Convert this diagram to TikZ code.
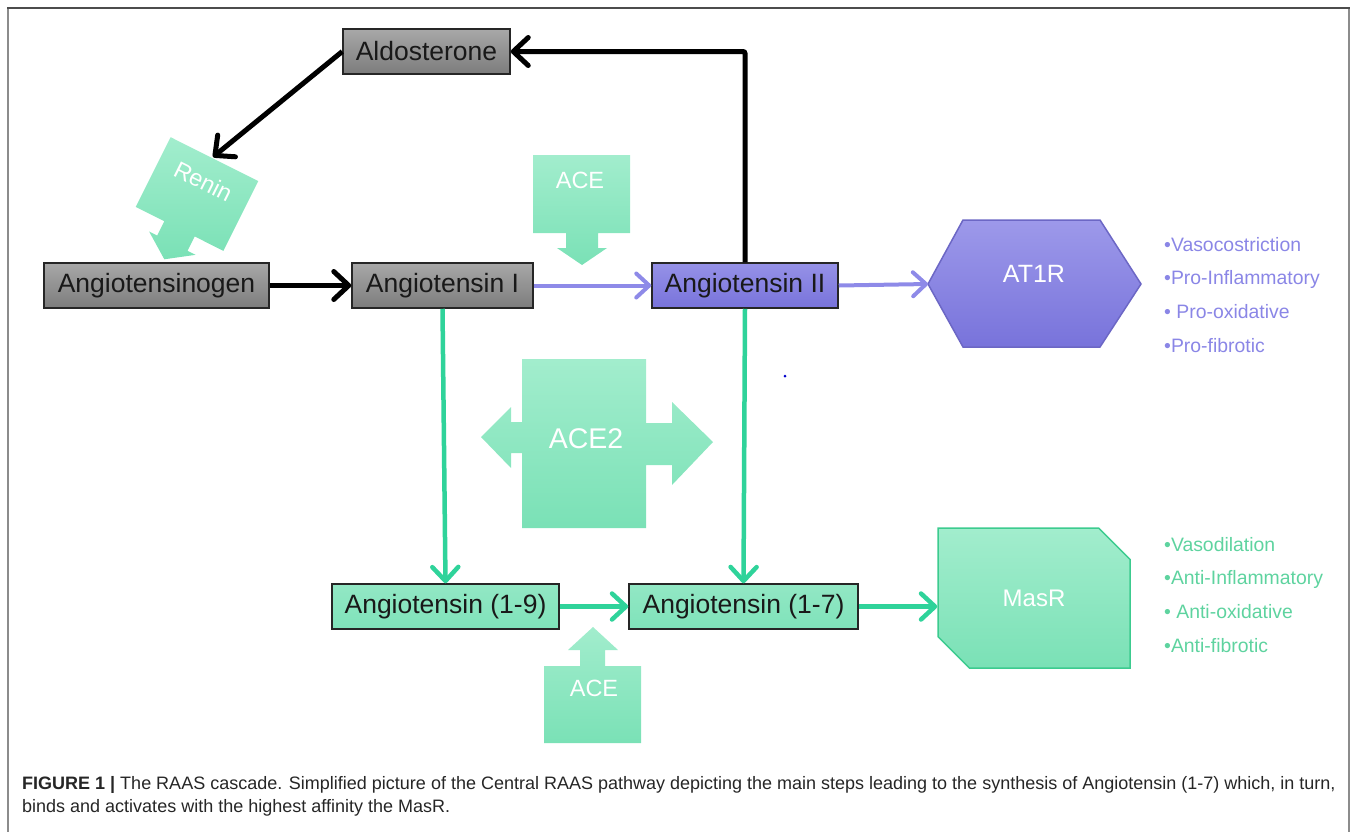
\documentclass[tikz,border=0pt]{standalone}
\usepackage{fontspec}
\setmainfont{Liberation Sans}
\usetikzlibrary{arrows.meta,positioning,shapes.misc}

\definecolor{grayT}{HTML}{A8A8A8}
\definecolor{grayB}{HTML}{7C7C7C}
\definecolor{purT}{HTML}{9D99EA}
\definecolor{purB}{HTML}{7873DB}
\definecolor{purLine}{HTML}{8E8AE8}
\definecolor{purText}{HTML}{8A86E6}
\definecolor{grnT}{HTML}{A2EDCD}
\definecolor{grnB}{HTML}{7AE1B6}
\definecolor{grnBox}{HTML}{7FE3BA}
\definecolor{grnLine}{HTML}{2FD39A}
\definecolor{grnEdge}{HTML}{3CCB8F}
\definecolor{grnText}{HTML}{5ED39F}

\tikzset{
  box/.style={draw=black!85,line width=1.5pt,minimum width=#1,minimum height=45pt,
    inner sep=0pt,font=\fontsize{26.5}{30}\selectfont,text=black!90},
  graybox/.style={box=#1,top color=grayT,bottom color=grayB},
  purbox/.style={box=#1,top color=purT!80!purB,bottom color=purB},
  grnbox/.style={box=#1,top color=grnBox!85!white,bottom color=grnBox},
  callout/.style={top color=grnT,bottom color=grnB,draw=none},
  calltext/.style={text=white,font=\fontsize{23.5}{26}\selectfont},
  blk/.style={line width=5pt,black,-{Straight Barb[length=15pt,width=28pt,round]}},
  pur/.style={line width=4pt,purLine,-{Straight Barb[length=13pt,width=24pt,round]}},
  grn/.style={line width=4.5pt,grnLine,-{Straight Barb[length=14pt,width=26pt,round]}},
  effect/.style={anchor=west,inner sep=0pt,font=\fontsize{19.4}{22}\selectfont}
}

\begin{document}
\begin{tikzpicture}[x=1pt,y=-1pt]
\useasboundingbox (0,0) rectangle (1358,831);
% frame
\draw[line width=2pt,black!45] (8,845) -- (8,8);
\draw[line width=2pt,black!45] (1349,8) -- (1349,845);
\draw[line width=2pt,black!70] (7,8) -- (1350,8);

% main boxes
\node[graybox=167pt] (aldo) at (426.5,51.5) {Aldosterone};
\node[graybox=225pt] (agen) at (156.5,285.5) {Angiotensinogen};
\node[graybox=181pt] (ang1) at (442.5,285.5) {Angiotensin I};
\node[purbox=186pt] (ang2) at (745,285.5) {Angiotensin II};
\node[grnbox=227pt] (ang19) at (445.5,606.5) {Angiotensin (1-9)};
\node[grnbox=229pt] (ang17) at (743.5,606.5) {Angiotensin (1-7)};

% receptors
\draw[top color=purT,bottom color=purB,draw=purB!90!black,line width=1.5pt]
  (928,284) coordinate (at1rW) -- (963,220) -- (1100,220) -- (1141,284)
  -- (1100,347) -- (963,347) -- cycle;
\node[text=white,font=\fontsize{25}{28}\selectfont] (at1r) at (1034,274) {AT1R};
\node[chamfered rectangle,chamfered rectangle corners={north east,south west},
  chamfered rectangle xsep=22pt,chamfered rectangle ysep=23pt,
  minimum width=192pt,minimum height=140pt,inner sep=0pt,
  top color=grnT,bottom color=grnB,draw=grnEdge,line width=1.5pt,
  text=white,font=\fontsize{24}{27}\selectfont] (masr) at (1034,598) {MasR};

% enzymes
\draw[callout] (533,155) -- (630,155) -- (630,233) -- (598,233) -- (598,248)
  -- (607,248) -- (582,265) -- (557,248) -- (566,248) -- (566,233) -- (533,233) -- cycle;
\node[calltext] (aceA) at (580,180) {ACE};
\draw[callout] (544,666) -- (580,666) -- (580,650) -- (568,650) -- (593,627)
  -- (618,650) -- (605,650) -- (605,666) -- (641,666) -- (641,743) -- (544,743) -- cycle;
\node[calltext] (aceB) at (594,688) {ACE};
\draw[callout] (522,359) -- (646,359) -- (646,423) -- (672,423) -- (672,402)
  -- (713,442) -- (672,485) -- (672,465) -- (646,465) -- (646,528) -- (522,528)
  -- (522,453) -- (511,453) -- (511,468) -- (481,437) -- (511,407) -- (511,422)
  -- (522,422) -- cycle;
\node[calltext,font=\fontsize{28.5}{31}\selectfont] (ace2) at (586,439) {ACE2};
\begin{scope}[shift={(197,194)},rotate=-26.6]
  \draw[callout] (-49,-39) -- (49,-39) -- (49,39) -- (17,39) -- (17,55) -- (26,55)
    -- (0,73) -- (-26,55) -- (-17,55) -- (-17,39) -- (-49,39) -- cycle;
  \node[calltext,transform shape] (renin) at (0,-14) {Renin};
\end{scope}
\coordinate (reninIn) at (213,157);

% connectors
\draw[blk] (aldo.west) -- (reninIn);
\draw[blk,rounded corners=2pt] (ang2.north) |- (aldo.east);
\draw[blk] (agen.east) -- (ang1.west);
\draw[pur] (ang1.east) -- (ang2.west);
\draw[pur] (ang2.east) -- (at1rW);
\draw[grn] (ang1.south) -- (ang19.north);
\draw[grn] (ang2.south) -- (ang17.north);
\draw[grn] (ang19.east) -- (ang17.west);
\draw[grn] (ang17.east) -- (ang17.east -| masr.west);
\fill[blue!80!black] (785,376) circle (1.5);

% effects
\begin{scope}[every node/.style={effect,text=purText}]
  \node (v1) at (1164,245) {•Vasocostriction};
  \node (v2) at (1164,279) {•Pro-Inflammatory};
  \node (v3) at (1164,312) {• Pro-oxidative};
  \node (v4) at (1164,346) {•Pro-fibrotic};
\end{scope}
\begin{scope}[every node/.style={effect,text=grnText}]
  \node (m1) at (1164,545) {•Vasodilation};
  \node (m2) at (1164,579) {•Anti-Inflammatory};
  \node (m3) at (1164,612) {• Anti-oxidative};
  \node (m4) at (1164,646) {•Anti-fibrotic};
\end{scope}

% caption
\begin{scope}[every node/.style={anchor=west,inner sep=0pt,text=black!85,
    font=\fontsize{18}{21}\selectfont}]
  \node (cap1) at (22,785) {\textbf{FIGURE 1 |} The RAAS cascade. Simplified picture of the Central RAAS pathway depicting the main steps leading to the synthesis of Angiotensin (1-7) which, in turn,};
  \node (cap2) at (22,808) {binds and activates with the highest affinity the MasR.};
\end{scope}
\end{tikzpicture}
\end{document}
